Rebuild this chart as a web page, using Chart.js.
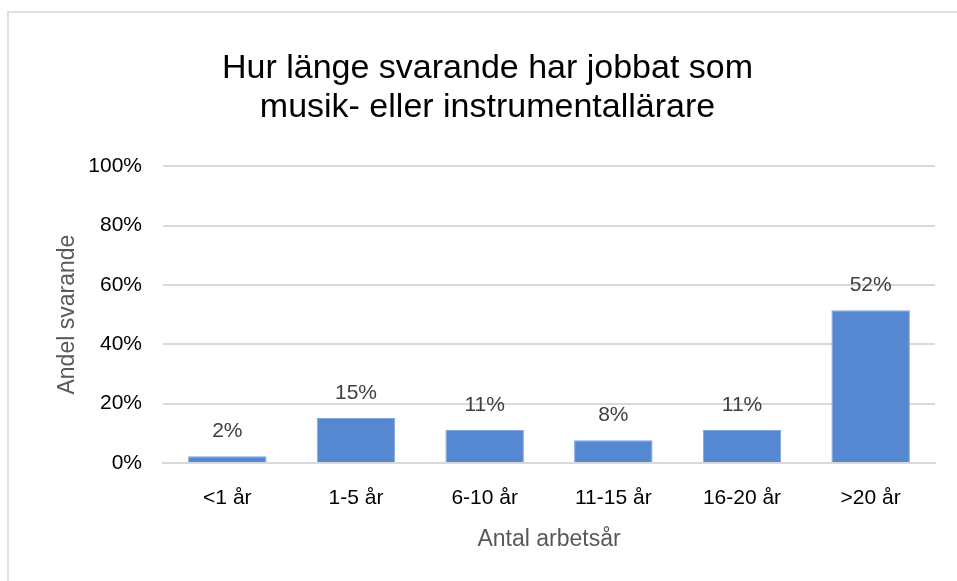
<!DOCTYPE html>
<html>
<head>
<meta charset="utf-8">
<script src="https://cdn.jsdelivr.net/npm/chart.js@4/dist/chart.umd.min.js"></script>
<style>
  html, body { margin: 0; padding: 0; background: #fff; }
  .frame {
    position: absolute; left: 7px; top: 11px; width: 960px; height: 580px;
    border-top: 2px solid #e0e0e0; border-left: 2px solid #e0e0e0;
  }
  canvas { position: absolute; left: 0; top: 0; }
</style>
</head>
<body>
<div class="frame"></div>
<canvas id="chart" width="957" height="581"></canvas>
<script>
const categories = ['<1 år', '1-5 år', '6-10 år', '11-15 år', '16-20 år', '>20 år'];
const shares = [2.3, 15.2, 11.1, 7.7, 11.1, 51.5];
const shareLabels = ['2%', '15%', '11%', '8%', '11%', '52%'];
const yTicks = [0, 20, 40, 60, 80, 100];

const FONT = '"Liberation Sans", Arial, sans-serif';

// value labels above each bar
const valueLabels = {
  id: 'valueLabels',
  afterDatasetsDraw(chart) {
    const ctx = chart.ctx;
    const meta = chart.getDatasetMeta(0);
    ctx.save();
    ctx.font = '21px ' + FONT;
    ctx.fillStyle = '#404040';
    ctx.textAlign = 'center';
    ctx.textBaseline = 'middle';
    meta.data.forEach((bar, i) => {
      ctx.fillText(shareLabels[i], bar.x, bar.y - 25);
    });
    ctx.restore();
  }
};

new Chart(document.getElementById('chart'), {
  type: 'bar',
  data: {
    labels: categories,
    datasets: [{
      data: shares,
      backgroundColor: '#5588d0',
      borderColor: '#7fa6e0',
      borderWidth: 1,
      categoryPercentage: 1,
      barPercentage: 0.61
    }]
  },
  options: {
    responsive: false,
    animation: false,
    layout: { padding: { top: 0, right: 22, bottom: 0, left: 40 } },
    plugins: {
      legend: { display: false },
      tooltip: { enabled: false },
      title: {
        display: true,
        text: ['Hur länge svarande har jobbat som', 'musik- eller instrumentallärare'],
        font: { family: FONT, size: 34, weight: 'normal', lineHeight: 1.15 },
        color: '#000',
        padding: { top: 49, bottom: 39 }
      }
    },
    scales: {
      y: {
        min: 0,
        max: 100,
        afterBuildTicks(scale) {
          scale.ticks = yTicks.map(v => ({ value: v }));
        },
        afterFit(scale) { scale.width = 123; },
        ticks: {
          callback: v => v + '%',
          font: { family: FONT, size: 21 },
          color: '#000',
          padding: 21
        },
        grid: { color: '#d9d9d9', lineWidth: 2, drawTicks: false },
        border: { display: false },
        title: {
          display: true,
          text: 'Andel svarande',
          font: { family: FONT, size: 23 },
          color: '#595959',
          padding: { top: 14, bottom: 0 }
        }
      },
      x: {
        afterFit(scale) { scale.height = 118; },
        ticks: {
          font: { family: FONT, size: 21 },
          color: '#000',
          padding: 23
        },
        grid: { display: false, drawTicks: false },
        border: { color: '#d9d9d9', width: 2 },
        title: {
          display: true,
          text: 'Antal arbetsår',
          font: { family: FONT, size: 23 },
          color: '#595959',
          padding: { top: 0, bottom: 28 }
        }
      }
    }
  },
  plugins: [valueLabels]
});
</script>
</body>
</html>
